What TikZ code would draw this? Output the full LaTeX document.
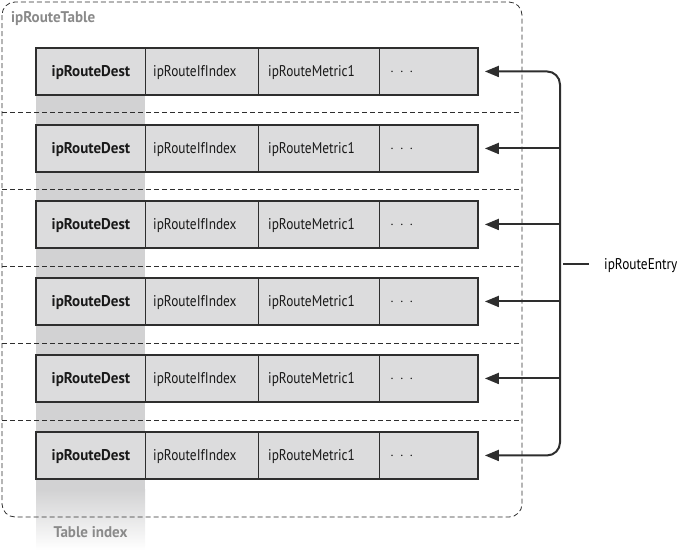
\documentclass[tikz,border=0pt]{standalone}
\usepackage{fontspec}
\setmainfont{PT Sans}[FakeStretch=0.86, BoldFeatures={FakeStretch=0.97}]
\usetikzlibrary{arrows.meta}
\definecolor{cellfill}{HTML}{DCDCDD}
\definecolor{idxgray}{HTML}{D2D2D3}
\definecolor{linegray}{HTML}{2E2E2E}
\definecolor{labgray}{HTML}{8A8A8A}
\tikzset{
  cellbox/.style={draw=linegray, line width=0.9pt, fill=cellfill, minimum height=46pt, inner sep=0pt, anchor=north west},
  celltext/.style={font=\fontsize{15.5}{16}\selectfont, text=black!90, anchor=west, inner sep=0pt},
  rowborder/.style={draw=linegray, line width=1.8pt},
  sepline/.style={draw=linegray, line width=0.8pt, dash pattern=on 5pt off 3pt},
  entryarrow/.style={draw=linegray, line width=2pt, -{Triangle[length=14pt,width=11pt]}},
}
\begin{document}
\begin{tikzpicture}[x=1pt,y=-1pt]
\useasboundingbox (0,0) rectangle (683,550);
% index column shading
\fill[idxgray] (36,94) rectangle (145,490);
\shade[top color=idxgray, bottom color=white] (36,489.5) rectangle (145,550);
% outer table
\draw[sepline, rounded corners=13pt] (2,2) rectangle (522,517);
\node[anchor=west, inner sep=0pt, font=\bfseries\fontsize{15.5}{16}\selectfont, text=labgray] (tbl) at (11,19) {ipRouteTable};
% separators
\foreach \y in {112,189,266,343,420} {
  \draw[sepline] (2,\y) -- (522,\y);
}
% rows
\foreach \i/\t in {1/48,2/125,3/201,4/278,5/355,6/432} {
  \node[cellbox, minimum width=109pt] (d\i) at (36,\t) {};
  \node[cellbox, minimum width=113pt] (f\i) at (145,\t) {};
  \node[cellbox, minimum width=121pt] (m\i) at (258,\t) {};
  \node[cellbox, minimum width=98pt] (e\i) at (379,\t) {};
  \draw[rowborder] (d\i.north west) rectangle (e\i.south east);
  \node[celltext, font=\bfseries\fontsize{15.5}{16}\selectfont, anchor=center] (dt\i) at ([yshift=-1.5pt]d\i.center) {ipRouteDest};
  \node[celltext] (ft\i) at ([xshift=8pt,yshift=-1.5pt]f\i.west) {ipRouteIfIndex};
  \node[celltext] (mt\i) at ([xshift=10pt,yshift=-1.5pt]m\i.west) {ipRouteMetric1};
  \node[celltext] (et\i) at ([xshift=11pt,yshift=-1pt]e\i.west) {$\cdot\,\cdot\,\cdot$};
}
% index label
\node[inner sep=0pt, font=\bfseries\fontsize{15.5}{16}\selectfont, text=labgray] (idx) at (90.5,532) {Table index};
% bracket and arrows
\coordinate (bk) at (560,264);
\draw[entryarrow, rounded corners=13pt] (bk) |- ([xshift=7pt]e1.east);
\draw[entryarrow, rounded corners=13pt] (bk) |- ([xshift=7pt]e6.east);
\foreach \i in {2,3,4,5} {
  \draw[entryarrow] (e\i.east -| bk) -- ([xshift=7pt]e\i.east);
}
\coordinate (tk) at (563,264);
\node[anchor=west, inner sep=0pt, font=\fontsize{15.5}{16}\selectfont] (entry) at (604,266) {ipRouteEntry};
\draw[draw=linegray, line width=1.2pt] (tk) -- (589,264);
\end{tikzpicture}
\end{document}
